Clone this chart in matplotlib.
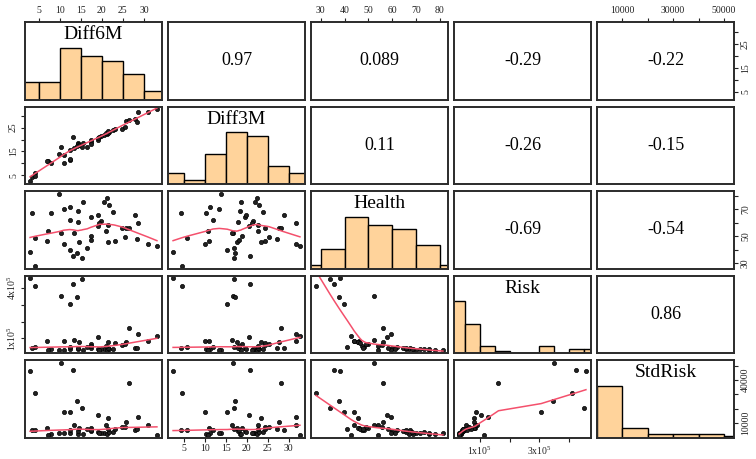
import numpy as np
import matplotlib
matplotlib.use('Agg')
import matplotlib.pyplot as plt

plt.rcParams['font.family'] = ['Liberation Serif', 'DejaVu Serif']
plt.rcParams['mathtext.fontset'] = 'custom'
plt.rcParams['mathtext.rm'] = 'Liberation Serif'

names = ['Diff6M', 'Diff3M', 'Health', 'Risk', 'StdRisk']

diff6m = [9.7, 3.3, 7.9, 10.9, 12.3, 14.4, 15.4, 20.4, 21.1, 21.6,
          22.6, 17.4, 19.0, 12.5, 14.3, 19.8, 19.4, 19.0, 21.4, 27.8,
          28.5, 24.9, 25.7, 26.4, 7.1, 10.3, 13.3, 21.0, 4.1, 6.9,
          10.9, 14.6, 17.4, 17.4, 16.5, 12.4, 14.0, 13.1, 15.2, 21.4,
          23.0, 25.6, 28.3, 30.9, 33.1, 2.9, 4.0]
diff3m = [13.9, 4.4, 10.3, 13.5, 11.2, 18.4, 18.6, 22.0, 22.4, 23.0,
          24.0, 19.6, 19.8, 12.0, 18.0, 21.6, 21.2, 20.6, 22.6, 28.8,
          31.7, 24.5, 27.6, 28.3, 10.8, 16.8, 16.5, 22.8, 5.8, 11.0,
          10.2, 17.6, 19.0, 18.2, 17.0, 15.4, 17.2, 20.9, 16.9, 23.5,
          24.3, 25.3, 27.2, 31.7, 32.7, 2.5, 4.7]
health = [81.4, 67.5, 67.0, 70.2, 71.9, 68.7, 75.6, 75.6, 78.1, 73.4,
          68.2, 64.5, 65.8, 62.1, 60.1, 61.3, 59.6, 57.7, 58.2, 65.8,
          59.6, 55.7, 56.2, 56.3, 53.9, 52.3, 52.3, 53.9, 48.3, 46.1,
          44.1, 45.8, 49.8, 47.3, 41.2, 39.8, 37.7, 35.5, 33.8, 45.8,
          46.6, 49.0, 47.8, 44.1, 42.9, 38.2, 28.0]
risk = [32000, 46000, 35000, 33000, 38000, 36000, 34000, 35000, 32000, 36000,
        40000, 42000, 38000, 48000, 44000, 37000, 33000, 106000, 45000, 42000,
        128000, 62000, 81000, 163000, 31000, 349000, 90000, 55000, 47000, 86000,
        87000, 82000, 70000, 58000, 48000, 306000, 347000, 424000, 451000, 80000,
        72000, 65000, 45000, 86000, 113000, 456000, 410000]
stdrisk = [3000, 5000, 2800, 3200, 3500, 2600, 2400, 3000, 2200, 3600,
           4200, 4500, 3900, 5200, 4800, 3300, 2900, 15700, 6000, 5500,
           14600, 7500, 10600, 38200, 2100, 51900, 8500, 9100, 5400, 7000,
           17600, 6500, 6800, 5600, 6000, 17600, 25700, 47000, 20600, 13800,
           5800, 7200, 6200, 8800, 2100, 46300, 30700]

# correlations printed in the upper panels
corr_labels = {(0, 1): '0.97', (0, 2): '0.089', (0, 3): '-0.29', (0, 4): '-0.22',
               (1, 2): '0.11', (1, 3): '-0.26', (1, 4): '-0.15',
               (2, 3): '-0.69', (2, 4): '-0.54',
               (3, 4): '0.86'}

bin_width = [5, 5, 10, 50000, 10000]

sup5 = lambda k: r'$\mathregular{%dx10^5}$' % k
tick_vals = [[5, 10, 15, 20, 25, 30],
             [5, 10, 15, 20, 25, 30],
             [30, 40, 50, 60, 70, 80],
             [100000, 200000, 300000, 400000],
             [10000, 20000, 30000, 40000, 50000]]
# labels on the horizontal (top / bottom) axes
xtick_labels = [['5', '10', '15', '20', '25', '30'],
                ['5', '10', '15', '20', '25', '30'],
                ['30', '40', '50', '60', '70', '80'],
                [sup5(1), '', sup5(3), ''],
                ['10000', '', '30000', '', '50000']]
# labels on the vertical (left / right) axes
ytick_labels = [['5', '', '15', '', '25', ''],
                ['5', '', '15', '', '25', ''],
                ['30', '', '50', '', '70', ''],
                [sup5(1), '', '', sup5(4)],
                ['10000', '', '', '40000', '']]

data = [np.array(v, float) for v in [diff6m, diff3m, health, risk, stdrisk]]
n = len(names)

hist_col = '#FFD39B'
smooth_col = '#F4506C'
frame_col = '#2b2b2b'


def lowess(x, y, f=2/3, iters=3):
    order = np.argsort(x, kind='stable')
    x = x[order]
    y = y[order]
    m = len(x)
    ns = max(2, min(m, int(f * m + 1e-7)))
    rw = np.ones(m)
    fit = np.zeros(m)
    for it in range(iters + 1):
        for i in range(m):
            d = np.abs(x - x[i])
            h = np.sort(d)[ns - 1]
            if h > 0:
                u = d / h
                w = np.where(u <= 0.999, (1 - u ** 3) ** 3, 0.0)
                w[u <= 0.001] = 1.0
            else:
                w = (d == 0).astype(float)
            w = w * rw
            sw = w.sum()
            if sw <= 0:
                fit[i] = y[i]
                continue
            xm = (w * x).sum() / sw
            ym = (w * y).sum() / sw
            sxx = (w * (x - xm) ** 2).sum()
            b = (w * (x - xm) * (y - ym)).sum() / sxx if sxx > 1e-12 else 0.0
            fit[i] = ym + b * (x[i] - xm)
        if it == iters:
            break
        res = y - fit
        s = 6 * np.median(np.abs(res))
        if s == 0:
            break
        u = np.abs(res) / s
        rw = np.where(u <= 0.999, (1 - u ** 2) ** 2, 0.0)
        rw[u <= 0.001] = 1.0
    return x, fit


# axis ranges like R's pairs (4% padding)
lims = []
for v in data:
    pad = 0.04 * (v.max() - v.min())
    lims.append((v.min() - pad, v.max() + pad))

W, H = 756.0, 459.0
fig = plt.figure(figsize=(7.56, 4.59), dpi=100)

for i in range(n):
    for j in range(n):
        left = 25 + j * 143
        top = 22 + i * 84.5
        ax = fig.add_axes([left / W, 1 - (top + 77.5) / H, 137 / W, 77.5 / H])
        ax.set_xlim(lims[j])
        ax.set_ylim(lims[i])
        for sp in ax.spines.values():
            sp.set_linewidth(1.4)
            sp.set_color(frame_col)
        ax.tick_params(which='both', bottom=False, top=False, left=False, right=False,
                       labelbottom=False, labeltop=False, labelleft=False, labelright=False,
                       length=3, width=0.8, pad=2, labelsize=7, colors='#222222')

        if i == j:
            v = data[i]
            bw = bin_width[i]
            edges = np.arange(np.floor(v.min() / bw) * bw, np.ceil(v.max() / bw) * bw + bw / 2, bw)
            counts, _ = np.histogram(v, bins=edges)
            ylo, yhi = lims[i]
            heights = counts / counts.max() * (yhi - ylo) / 1.5
            ax.bar(edges[:-1], heights, width=bw, align='edge', bottom=ylo,
                   color=hist_col, edgecolor='black', linewidth=1.0)
            ax.text(0.5, 0.835, names[i], transform=ax.transAxes,
                    ha='center', va='center', fontsize=14)
        elif i > j:
            ax.plot(data[j], data[i], 'o', ms=3.0, mfc='#222222', mec='black', mew=0.5)
            sx, sy = lowess(data[j], data[i])
            ax.plot(sx, sy, color=smooth_col, lw=1.1)
        else:
            ax.text(0.5, 0.5, corr_labels[(i, j)], transform=ax.transAxes,
                    ha='center', va='center', fontsize=13)

        # outer axes, alternating like R's pairs()
        if i == 0 and j % 2 == 0:
            ax.set_xticks(tick_vals[j], xtick_labels[j])
            ax.tick_params(axis='x', top=True, labeltop=True)
        if i == n - 1 and j % 2 == 1:
            ax.set_xticks(tick_vals[j], xtick_labels[j])
            ax.tick_params(axis='x', bottom=True, labelbottom=True)
        if j == 0 and i % 2 == 1:
            ax.set_yticks(tick_vals[i], ytick_labels[i])
            ax.tick_params(axis='y', left=True, labelleft=True)
            for lbl in ax.get_yticklabels():
                lbl.set_rotation(90)
                lbl.set_va('center')
        if j == n - 1 and i % 2 == 0:
            ax.set_yticks(tick_vals[i], ytick_labels[i])
            ax.tick_params(axis='y', right=True, labelright=True)
            for lbl in ax.get_yticklabels():
                lbl.set_rotation(90)
                lbl.set_va('center')
        ax.set_xlim(lims[j])
        ax.set_ylim(lims[i])

fig.savefig('out.png', dpi=100)
